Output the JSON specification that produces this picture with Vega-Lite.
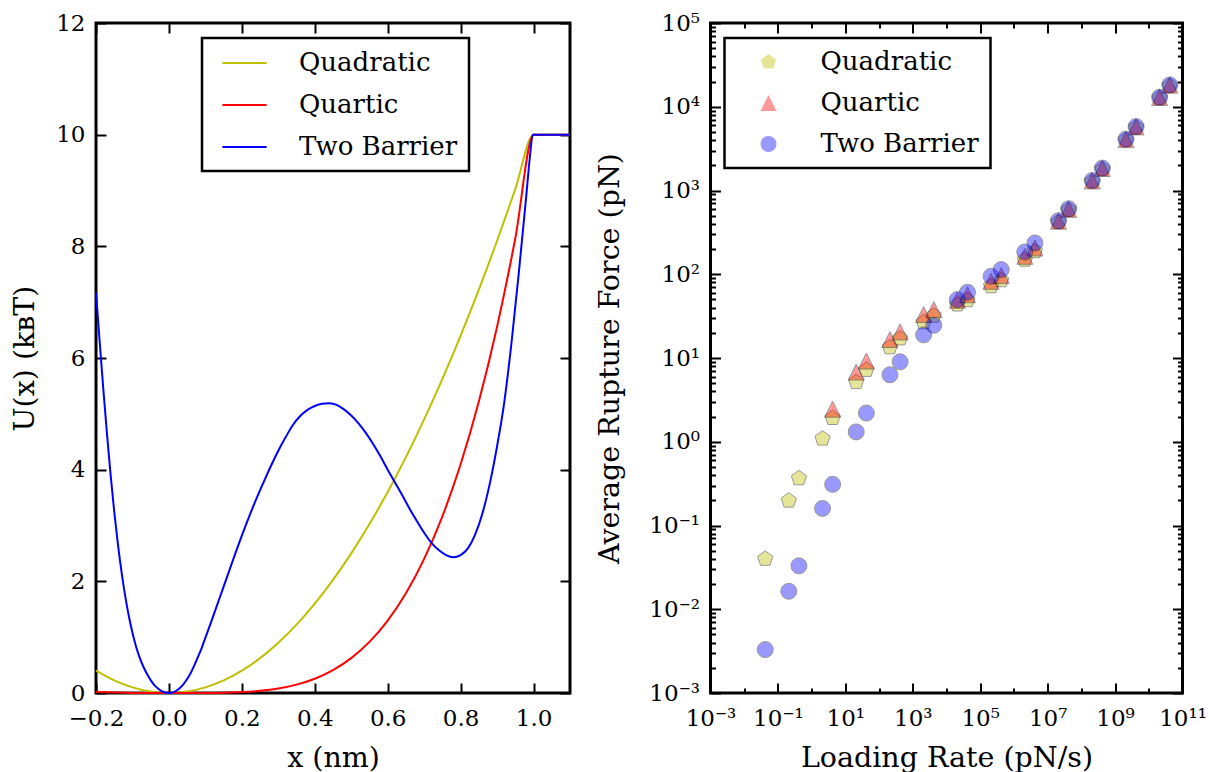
{
  "$schema": "https://vega.github.io/schema/vega-lite/v6.json",
  "background": "white",
  "padding": {"left": 9, "top": 10, "right": 0, "bottom": 0},
  "spacing": 140.5,
  "bounds": "flush",
  "resolve": {
    "scale": {"color": "independent", "shape": "independent"},
    "legend": {"color": "independent", "shape": "independent"}
  },
  "config": {
    "font": "DejaVu Serif",
    "view": {"stroke": "black", "strokeWidth": 3},
    "axis": {
      "domain": false, "grid": false,
      "labelFont": "DejaVu Serif", "labelFontSize": 23, "labelColor": "black",
      "titleFont": "DejaVu Serif", "titleFontSize": 28.5, "titleFontWeight": "normal", "titleColor": "black",
      "tickColor": "black", "tickWidth": 2, "labelFlush": false, "labelOverlap": false
    },
    "legend": {
      "labelFont": "DejaVu Serif", "labelFontSize": 26, "labelColor": "black",
      "strokeColor": "black", "strokeWidth": 2.5, "fillColor": "white",
      "padding": 11, "rowPadding": 15, "orient": "none", "title": null
    }
  },
  "hconcat": [
    {
      "width": 474,
      "height": 670,
      "data": {
        "values": [
          {"curve": "Quadratic", "x": -0.2, "U": 0.4},
          {"curve": "Quadratic", "x": -0.15, "U": 0.225},
          {"curve": "Quadratic", "x": -0.1, "U": 0.1},
          {"curve": "Quadratic", "x": -0.05, "U": 0.025},
          {"curve": "Quadratic", "x": 0.0, "U": 0.0},
          {"curve": "Quadratic", "x": 0.05, "U": 0.025},
          {"curve": "Quadratic", "x": 0.1, "U": 0.1},
          {"curve": "Quadratic", "x": 0.15, "U": 0.225},
          {"curve": "Quadratic", "x": 0.2, "U": 0.4},
          {"curve": "Quadratic", "x": 0.25, "U": 0.625},
          {"curve": "Quadratic", "x": 0.3, "U": 0.9},
          {"curve": "Quadratic", "x": 0.35, "U": 1.225},
          {"curve": "Quadratic", "x": 0.4, "U": 1.6},
          {"curve": "Quadratic", "x": 0.45, "U": 2.025},
          {"curve": "Quadratic", "x": 0.5, "U": 2.5},
          {"curve": "Quadratic", "x": 0.55, "U": 3.025},
          {"curve": "Quadratic", "x": 0.6, "U": 3.6},
          {"curve": "Quadratic", "x": 0.65, "U": 4.225},
          {"curve": "Quadratic", "x": 0.7, "U": 4.9},
          {"curve": "Quadratic", "x": 0.75, "U": 5.625},
          {"curve": "Quadratic", "x": 0.8, "U": 6.4},
          {"curve": "Quadratic", "x": 0.85, "U": 7.225},
          {"curve": "Quadratic", "x": 0.9, "U": 8.1},
          {"curve": "Quadratic", "x": 0.95, "U": 9.025},
          {"curve": "Quadratic", "x": 1.0, "U": 10.0},
          {"curve": "Quadratic", "x": 1.05, "U": 10.0},
          {"curve": "Quadratic", "x": 1.1, "U": 10.0},
          {"curve": "Quartic", "x": -0.2, "U": 0.016},
          {"curve": "Quartic", "x": -0.1, "U": 0.001},
          {"curve": "Quartic", "x": 0.0, "U": 0.0},
          {"curve": "Quartic", "x": 0.1, "U": 0.001},
          {"curve": "Quartic", "x": 0.15, "U": 0.005},
          {"curve": "Quartic", "x": 0.2, "U": 0.016},
          {"curve": "Quartic", "x": 0.25, "U": 0.039},
          {"curve": "Quartic", "x": 0.3, "U": 0.081},
          {"curve": "Quartic", "x": 0.35, "U": 0.15},
          {"curve": "Quartic", "x": 0.4, "U": 0.256},
          {"curve": "Quartic", "x": 0.45, "U": 0.41},
          {"curve": "Quartic", "x": 0.5, "U": 0.625},
          {"curve": "Quartic", "x": 0.55, "U": 0.915},
          {"curve": "Quartic", "x": 0.6, "U": 1.296},
          {"curve": "Quartic", "x": 0.65, "U": 1.785},
          {"curve": "Quartic", "x": 0.7, "U": 2.401},
          {"curve": "Quartic", "x": 0.75, "U": 3.164},
          {"curve": "Quartic", "x": 0.8, "U": 4.096},
          {"curve": "Quartic", "x": 0.85, "U": 5.22},
          {"curve": "Quartic", "x": 0.9, "U": 6.561},
          {"curve": "Quartic", "x": 0.95, "U": 8.145},
          {"curve": "Quartic", "x": 1.0, "U": 10.0},
          {"curve": "Quartic", "x": 1.05, "U": 10.0},
          {"curve": "Quartic", "x": 1.1, "U": 10.0},
          {"curve": "Two Barrier", "x": -0.2, "U": 7.17},
          {"curve": "Two Barrier", "x": -0.19, "U": 6.3},
          {"curve": "Two Barrier", "x": -0.18, "U": 5.45},
          {"curve": "Two Barrier", "x": -0.17, "U": 4.65},
          {"curve": "Two Barrier", "x": -0.16, "U": 3.91},
          {"curve": "Two Barrier", "x": -0.15, "U": 3.25},
          {"curve": "Two Barrier", "x": -0.14, "U": 2.67},
          {"curve": "Two Barrier", "x": -0.13, "U": 2.17},
          {"curve": "Two Barrier", "x": -0.12, "U": 1.74},
          {"curve": "Two Barrier", "x": -0.11, "U": 1.38},
          {"curve": "Two Barrier", "x": -0.1, "U": 1.08},
          {"curve": "Two Barrier", "x": -0.09, "U": 0.83},
          {"curve": "Two Barrier", "x": -0.08, "U": 0.63},
          {"curve": "Two Barrier", "x": -0.07, "U": 0.47},
          {"curve": "Two Barrier", "x": -0.06, "U": 0.34},
          {"curve": "Two Barrier", "x": -0.05, "U": 0.23},
          {"curve": "Two Barrier", "x": -0.04, "U": 0.14},
          {"curve": "Two Barrier", "x": -0.03, "U": 0.08},
          {"curve": "Two Barrier", "x": -0.02, "U": 0.035},
          {"curve": "Two Barrier", "x": -0.01, "U": 0.009},
          {"curve": "Two Barrier", "x": 0.0, "U": 0.0},
          {"curve": "Two Barrier", "x": 0.01, "U": 0.01},
          {"curve": "Two Barrier", "x": 0.02, "U": 0.04},
          {"curve": "Two Barrier", "x": 0.03, "U": 0.09},
          {"curve": "Two Barrier", "x": 0.04, "U": 0.16},
          {"curve": "Two Barrier", "x": 0.05, "U": 0.25},
          {"curve": "Two Barrier", "x": 0.06, "U": 0.36},
          {"curve": "Two Barrier", "x": 0.07, "U": 0.5},
          {"curve": "Two Barrier", "x": 0.08, "U": 0.65},
          {"curve": "Two Barrier", "x": 0.09, "U": 0.81},
          {"curve": "Two Barrier", "x": 0.1, "U": 0.99},
          {"curve": "Two Barrier", "x": 0.12, "U": 1.35},
          {"curve": "Two Barrier", "x": 0.14, "U": 1.72},
          {"curve": "Two Barrier", "x": 0.16, "U": 2.09},
          {"curve": "Two Barrier", "x": 0.18, "U": 2.46},
          {"curve": "Two Barrier", "x": 0.2, "U": 2.82},
          {"curve": "Two Barrier", "x": 0.22, "U": 3.16},
          {"curve": "Two Barrier", "x": 0.24, "U": 3.48},
          {"curve": "Two Barrier", "x": 0.26, "U": 3.78},
          {"curve": "Two Barrier", "x": 0.28, "U": 4.07},
          {"curve": "Two Barrier", "x": 0.3, "U": 4.34},
          {"curve": "Two Barrier", "x": 0.32, "U": 4.58},
          {"curve": "Two Barrier", "x": 0.34, "U": 4.8},
          {"curve": "Two Barrier", "x": 0.36, "U": 4.96},
          {"curve": "Two Barrier", "x": 0.38, "U": 5.07},
          {"curve": "Two Barrier", "x": 0.4, "U": 5.14},
          {"curve": "Two Barrier", "x": 0.42, "U": 5.18},
          {"curve": "Two Barrier", "x": 0.44, "U": 5.19},
          {"curve": "Two Barrier", "x": 0.46, "U": 5.16},
          {"curve": "Two Barrier", "x": 0.48, "U": 5.08},
          {"curve": "Two Barrier", "x": 0.5, "U": 4.97},
          {"curve": "Two Barrier", "x": 0.52, "U": 4.83},
          {"curve": "Two Barrier", "x": 0.54, "U": 4.66},
          {"curve": "Two Barrier", "x": 0.56, "U": 4.46},
          {"curve": "Two Barrier", "x": 0.58, "U": 4.24},
          {"curve": "Two Barrier", "x": 0.6, "U": 4.0},
          {"curve": "Two Barrier", "x": 0.62, "U": 3.77},
          {"curve": "Two Barrier", "x": 0.64, "U": 3.54},
          {"curve": "Two Barrier", "x": 0.66, "U": 3.3},
          {"curve": "Two Barrier", "x": 0.68, "U": 3.08},
          {"curve": "Two Barrier", "x": 0.7, "U": 2.87},
          {"curve": "Two Barrier", "x": 0.72, "U": 2.69},
          {"curve": "Two Barrier", "x": 0.74, "U": 2.56},
          {"curve": "Two Barrier", "x": 0.76, "U": 2.47},
          {"curve": "Two Barrier", "x": 0.78, "U": 2.43},
          {"curve": "Two Barrier", "x": 0.8, "U": 2.47},
          {"curve": "Two Barrier", "x": 0.82, "U": 2.59},
          {"curve": "Two Barrier", "x": 0.84, "U": 2.84},
          {"curve": "Two Barrier", "x": 0.86, "U": 3.22},
          {"curve": "Two Barrier", "x": 0.88, "U": 3.75},
          {"curve": "Two Barrier", "x": 0.9, "U": 4.42},
          {"curve": "Two Barrier", "x": 0.92, "U": 5.22},
          {"curve": "Two Barrier", "x": 0.94, "U": 6.3},
          {"curve": "Two Barrier", "x": 0.96, "U": 7.55},
          {"curve": "Two Barrier", "x": 0.98, "U": 8.9},
          {"curve": "Two Barrier", "x": 0.99, "U": 9.6},
          {"curve": "Two Barrier", "x": 0.998, "U": 10.0},
          {"curve": "Two Barrier", "x": 1.05, "U": 10.0},
          {"curve": "Two Barrier", "x": 1.1, "U": 10.0}
        ]
      },
      "layer": [
        {
          "mark": {"type": "line", "strokeWidth": 2, "interpolate": "monotone"},
          "encoding": {
            "x": {
              "field": "x", "type": "quantitative",
              "scale": {"domain": [-0.2, 1.1], "nice": false, "zero": false},
              "axis": {"orient": "bottom", "values": [-0.2, 0, 0.2, 0.4, 0.6, 0.8, 1.0], "format": ".1f",
                       "tickSize": -10, "labelPadding": 24, "title": "x (nm)", "titlePadding": 13}
            },
            "y": {
              "field": "U", "type": "quantitative",
              "scale": {"domain": [0, 12], "nice": false, "zero": false},
              "axis": {"orient": "left", "values": [0, 2, 4, 6, 8, 10, 12], "format": "d",
                       "tickSize": -10, "labelPadding": 21, "title": "U(x) (kʙT)", "titlePadding": 16}
            },
            "color": {
              "field": "curve", "type": "nominal",
              "scale": {"domain": ["Quadratic", "Quartic", "Two Barrier"], "range": ["#bfbf00", "#ff0000", "#0000ff"]},
              "legend": {"legendX": 106, "legendY": 15, "symbolType": "M-1.7,0L1.7,0", "symbolSize": 676,
                         "symbolStrokeWidth": 2, "symbolOffset": 17.5, "labelOffset": 40.5}
            }
          }
        },
        {
          "mark": {"type": "line", "opacity": 0},
          "encoding": {
            "x": {"field": "x", "type": "quantitative",
                  "axis": {"orient": "top", "values": [-0.2, 0, 0.2, 0.4, 0.6, 0.8, 1.0], "labels": false, "tickSize": -10, "title": null}},
            "y": {"field": "U", "type": "quantitative",
                  "axis": {"orient": "right", "values": [0, 2, 4, 6, 8, 10, 12], "labels": false, "tickSize": -10, "title": null}},
            "detail": {"field": "curve", "type": "nominal"}
          }
        }
      ],
      "resolve": {"axis": {"x": "independent", "y": "independent"}}
    },
    {
      "width": 472,
      "height": 670,
      "data": {
        "values": [
          {"series": "Quadratic", "rate": 0.042, "force": 0.04},
          {"series": "Quadratic", "rate": 0.21, "force": 0.198},
          {"series": "Quadratic", "rate": 0.42, "force": 0.366},
          {"series": "Quadratic", "rate": 2.1, "force": 1.09},
          {"series": "Quadratic", "rate": 4.2, "force": 1.92},
          {"series": "Quadratic", "rate": 21, "force": 5.15},
          {"series": "Quadratic", "rate": 42, "force": 7.2},
          {"series": "Quadratic", "rate": 210, "force": 13.4},
          {"series": "Quadratic", "rate": 420, "force": 17.1},
          {"series": "Quadratic", "rate": 2100, "force": 26.7},
          {"series": "Quadratic", "rate": 4200, "force": 32},
          {"series": "Quadratic", "rate": 21000, "force": 43.5},
          {"series": "Quadratic", "rate": 42000, "force": 49},
          {"series": "Quadratic", "rate": 210000, "force": 71.8},
          {"series": "Quadratic", "rate": 420000, "force": 84.7},
          {"series": "Quadratic", "rate": 2100000, "force": 149},
          {"series": "Quadratic", "rate": 4200000, "force": 188},
          {"series": "Quadratic", "rate": 21000000, "force": 420},
          {"series": "Quadratic", "rate": 42000000, "force": 585},
          {"series": "Quadratic", "rate": 210000000, "force": 1280},
          {"series": "Quadratic", "rate": 420000000, "force": 1800},
          {"series": "Quadratic", "rate": 2100000000, "force": 4000},
          {"series": "Quadratic", "rate": 4200000000, "force": 5650},
          {"series": "Quadratic", "rate": 21000000000, "force": 12700},
          {"series": "Quadratic", "rate": 42000000000, "force": 17800},
          {"series": "Quartic", "rate": 4.2, "force": 2.45},
          {"series": "Quartic", "rate": 21, "force": 6.8},
          {"series": "Quartic", "rate": 42, "force": 9.2},
          {"series": "Quartic", "rate": 210, "force": 16.6},
          {"series": "Quartic", "rate": 420, "force": 20.5},
          {"series": "Quartic", "rate": 2100, "force": 33},
          {"series": "Quartic", "rate": 4200, "force": 37.9},
          {"series": "Quartic", "rate": 21000, "force": 49},
          {"series": "Quartic", "rate": 42000, "force": 57},
          {"series": "Quartic", "rate": 210000, "force": 82.4},
          {"series": "Quartic", "rate": 420000, "force": 96.4},
          {"series": "Quartic", "rate": 2100000, "force": 164},
          {"series": "Quartic", "rate": 4200000, "force": 206},
          {"series": "Quartic", "rate": 21000000, "force": 430},
          {"series": "Quartic", "rate": 42000000, "force": 595},
          {"series": "Quartic", "rate": 210000000, "force": 1300},
          {"series": "Quartic", "rate": 420000000, "force": 1830},
          {"series": "Quartic", "rate": 2100000000, "force": 4050},
          {"series": "Quartic", "rate": 4200000000, "force": 5750},
          {"series": "Quartic", "rate": 21000000000, "force": 12900},
          {"series": "Quartic", "rate": 42000000000, "force": 18100},
          {"series": "Two Barrier", "rate": 0.042, "force": 0.0033},
          {"series": "Two Barrier", "rate": 0.21, "force": 0.0164},
          {"series": "Two Barrier", "rate": 0.42, "force": 0.033},
          {"series": "Two Barrier", "rate": 2.1, "force": 0.16},
          {"series": "Two Barrier", "rate": 4.2, "force": 0.31},
          {"series": "Two Barrier", "rate": 21, "force": 1.31},
          {"series": "Two Barrier", "rate": 42, "force": 2.2},
          {"series": "Two Barrier", "rate": 210, "force": 6.3},
          {"series": "Two Barrier", "rate": 420, "force": 9.0},
          {"series": "Two Barrier", "rate": 2100, "force": 18.9},
          {"series": "Two Barrier", "rate": 4200, "force": 24.6},
          {"series": "Two Barrier", "rate": 21000, "force": 49.8},
          {"series": "Two Barrier", "rate": 42000, "force": 61},
          {"series": "Two Barrier", "rate": 210000, "force": 94.5},
          {"series": "Two Barrier", "rate": 420000, "force": 113.6},
          {"series": "Two Barrier", "rate": 2100000, "force": 184.6},
          {"series": "Two Barrier", "rate": 4200000, "force": 236},
          {"series": "Two Barrier", "rate": 21000000, "force": 436},
          {"series": "Two Barrier", "rate": 42000000, "force": 606},
          {"series": "Two Barrier", "rate": 210000000, "force": 1318},
          {"series": "Two Barrier", "rate": 420000000, "force": 1851},
          {"series": "Two Barrier", "rate": 2100000000, "force": 4106},
          {"series": "Two Barrier", "rate": 4200000000, "force": 5800},
          {"series": "Two Barrier", "rate": 21000000000, "force": 13000},
          {"series": "Two Barrier", "rate": 42000000000, "force": 18230}
        ]
      },
      "layer": [
        {
          "mark": {"type": "point", "filled": true, "opacity": 0.4, "stroke": "black", "strokeWidth": 1, "size": 256},
          "encoding": {
            "x": {
              "field": "rate", "type": "quantitative",
              "scale": {"type": "log", "domain": [0.001, 100000000000], "nice": false},
              "axis": {"orient": "bottom", "values": [0.001, 0.1, 10, 1000, 100000, 10000000, 1000000000, 100000000000],
                       "labelExpr": "['10⁻³','10⁻²','10⁻¹','10⁰','10¹','10²','10³','10⁴','10⁵','10⁶','10⁷','10⁸','10⁹','10¹⁰','10¹¹'][round(log(datum.value)/LN10)+3]",
                       "tickSize": -10, "labelPadding": 24, "title": "Loading Rate (pN/s)", "titlePadding": 13}
            },
            "y": {
              "field": "force", "type": "quantitative",
              "scale": {"type": "log", "domain": [0.001, 100000], "nice": false},
              "axis": {"orient": "left", "values": [0.001, 0.01, 0.1, 1, 10, 100, 1000, 10000, 100000],
                       "labelExpr": "['10⁻³','10⁻²','10⁻¹','10⁰','10¹','10²','10³','10⁴','10⁵','10⁶','10⁷','10⁸','10⁹','10¹⁰','10¹¹'][round(log(datum.value)/LN10)+3]",
                       "tickSize": -10, "labelPadding": 21, "title": "Average Rupture Force (pN)", "titlePadding": 24}
            },
            "color": {
              "field": "series", "type": "nominal",
              "scale": {"domain": ["Quadratic", "Quartic", "Two Barrier"], "range": ["#bfbf00", "#ff0000", "#0000ff"]},
              "legend": {"legendX": 14, "legendY": 15, "symbolSize": 256, "symbolOffset": 20, "labelOffset": 39,
                         "symbolStrokeColor": "black", "symbolStrokeWidth": 1, "symbolOpacity": 0.4}
            },
            "shape": {
              "field": "series", "type": "nominal",
              "scale": {"domain": ["Quadratic", "Quartic", "Two Barrier"],
                        "range": ["M0,-1L0.951,-0.309L0.588,0.809L-0.588,0.809L-0.951,-0.309Z", "M0,-1L1,1L-1,1Z", "circle"]},
              "legend": {"legendX": 14, "legendY": 15, "symbolSize": 256, "symbolOffset": 20, "labelOffset": 39,
                         "symbolStrokeColor": "black", "symbolStrokeWidth": 1, "symbolOpacity": 0.4}
            }
          }
        },
        {
          "mark": {"type": "point", "opacity": 0},
          "encoding": {
            "x": {"field": "rate", "type": "quantitative",
                  "axis": {"orient": "bottom", "values": [0.01, 1, 100, 10000, 1000000, 100000000, 10000000000], "labels": false, "tickSize": -5, "title": null}},
            "y": {"field": "force", "type": "quantitative",
                  "axis": {"orient": "left", "labels": false, "tickSize": -5, "title": null,
                           "values": [0.002,0.003,0.004,0.005,0.006,0.007,0.008,0.009,0.02,0.03,0.04,0.05,0.06,0.07,0.08,0.09,0.2,0.3,0.4,0.5,0.6,0.7,0.8,0.9,2,3,4,5,6,7,8,9,20,30,40,50,60,70,80,90,200,300,400,500,600,700,800,900,2000,3000,4000,5000,6000,7000,8000,9000,20000,30000,40000,50000,60000,70000,80000,90000]}}
          }
        },
        {
          "mark": {"type": "point", "opacity": 0},
          "encoding": {
            "x": {"field": "rate", "type": "quantitative",
                  "axis": {"orient": "top", "values": [0.001, 0.1, 10, 1000, 100000, 10000000, 1000000000, 100000000000], "labels": false, "tickSize": -10, "title": null}},
            "y": {"field": "force", "type": "quantitative",
                  "axis": {"orient": "right", "values": [0.001, 0.01, 0.1, 1, 10, 100, 1000, 10000, 100000], "labels": false, "tickSize": -10, "title": null}}
          }
        },
        {
          "mark": {"type": "point", "opacity": 0},
          "encoding": {
            "x": {"field": "rate", "type": "quantitative",
                  "axis": {"orient": "top", "values": [0.01, 1, 100, 10000, 1000000, 100000000, 10000000000], "labels": false, "tickSize": -5, "title": null}},
            "y": {"field": "force", "type": "quantitative",
                  "axis": {"orient": "right", "labels": false, "tickSize": -5, "title": null,
                           "values": [0.002,0.003,0.004,0.005,0.006,0.007,0.008,0.009,0.02,0.03,0.04,0.05,0.06,0.07,0.08,0.09,0.2,0.3,0.4,0.5,0.6,0.7,0.8,0.9,2,3,4,5,6,7,8,9,20,30,40,50,60,70,80,90,200,300,400,500,600,700,800,900,2000,3000,4000,5000,6000,7000,8000,9000,20000,30000,40000,50000,60000,70000,80000,90000]}}
          }
        }
      ],
      "resolve": {"axis": {"x": "independent", "y": "independent"}}
    }
  ]
}
